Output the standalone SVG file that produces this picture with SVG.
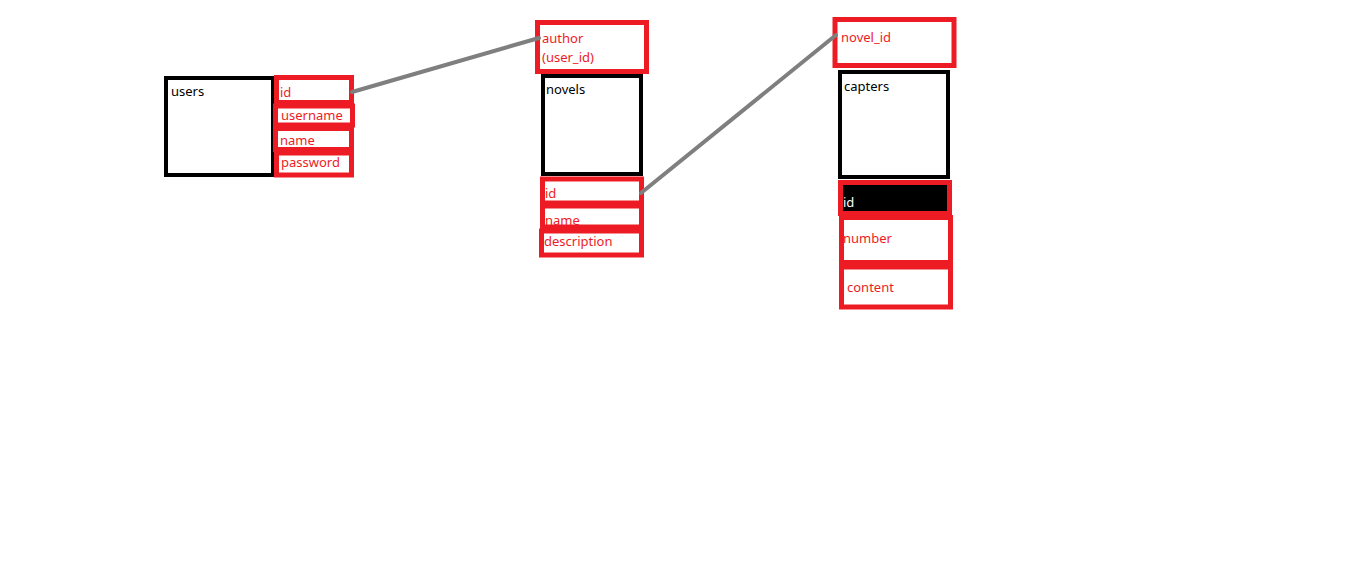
<svg xmlns="http://www.w3.org/2000/svg" width="1360" height="570" viewBox="0 0 1360 570">
<style>
.tbl{fill:#fff;stroke:#000;stroke-width:4}
.fld{fill:#fff;stroke:#ed1c24;stroke-width:5}
.fldk{fill:#000;stroke:#ed1c24;stroke-width:5}
.t{font-family:"Noto Sans","Open Sans",sans-serif;font-size:13px;fill:#000}
.r{font-family:"Noto Sans","Open Sans",sans-serif;font-size:13px;fill:#ed1c24}
.w{font-family:"Noto Sans","Open Sans",sans-serif;font-size:13px;fill:#fff}
.c{stroke:#7f7f7f;stroke-width:4;stroke-linecap:round;fill:none}
</style>
<rect width="1360" height="570" fill="#fff"/>
<g id="users">
<rect class="tbl" x="166" y="78" width="107" height="97"/>
<text class="t" x="171" y="96">users</text>
</g>
<g id="users-id"><rect class="fld" x="276.5" y="77.5" width="75" height="25"/><text class="r" x="280" y="97">id</text></g>
<g id="users-username"><rect class="fld" x="275.5" y="106" width="77" height="19"/><text class="r" x="281" y="120">username</text></g>
<g id="users-name"><rect class="fld" x="275.5" y="128.5" width="76" height="21"/><text class="r" x="280" y="145">name</text></g>
<g id="users-password"><rect class="fld" x="276.5" y="153" width="75" height="22"/><text class="r" x="281" y="167">password</text></g>

<g id="novels-author"><rect class="fld" x="537.5" y="22.5" width="109" height="49"/><text class="r" x="542" y="43">author</text><text class="r" x="542" y="62">(user_id)</text></g>
<g id="novels">
<rect class="tbl" x="543" y="76" width="98" height="98"/>
<text class="t" x="546" y="94">novels</text>
</g>
<g id="novels-id"><rect class="fld" x="542.5" y="179" width="99" height="24"/><text class="r" x="545" y="198">id</text></g>
<g id="novels-name"><rect class="fld" x="542.5" y="206" width="99" height="21"/><text class="r" x="545" y="225">name</text></g>
<g id="novels-description"><rect class="fld" x="541.5" y="231" width="100" height="24"/><text class="r" x="544" y="246">description</text></g>

<g id="capters-novel_id"><rect class="fld" x="835" y="19.5" width="119" height="46"/><text class="r" x="841" y="42">novel_id</text></g>
<g id="capters">
<rect class="tbl" x="840" y="72" width="108" height="105"/>
<text class="t" x="844" y="91">capters</text>
</g>
<g id="capters-id"><rect class="fldk" x="840.5" y="182.5" width="109" height="31"/><text class="w" x="843" y="207">id</text></g>
<g id="capters-number"><rect class="fld" x="841.5" y="217.5" width="109" height="45"/><text class="r" x="843" y="243">number</text></g>
<g id="capters-content"><rect class="fld" x="841.5" y="267" width="109" height="40"/><text class="r" x="847" y="292">content</text></g>

<g id="connectors">
<line class="c" x1="352" y1="92" x2="539" y2="38"/>
<line class="c" x1="641" y1="193" x2="836" y2="35"/>
</g>
</svg>
